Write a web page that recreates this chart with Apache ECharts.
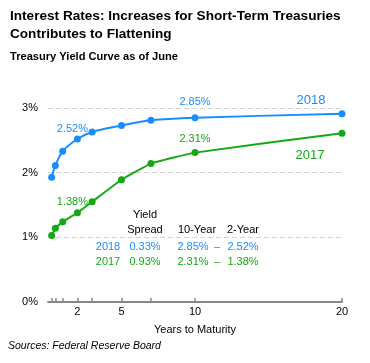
<!DOCTYPE html>
<html><head><meta charset="utf-8">
<script src="https://cdn.jsdelivr.net/npm/echarts@6/dist/echarts.min.js"></script>
<style>html,body{margin:0;padding:0;background:#fff}#c{width:370px;height:363px}</style>
</head><body><div id="c"></div>
<script>
var maturities = [0.25, 0.5, 1, 2, 3, 5, 7, 10, 20];
var yields2018 = [1.93, 2.11, 2.33, 2.52, 2.63, 2.73, 2.81, 2.85, 2.91];
var yields2017 = [1.03, 1.14, 1.24, 1.38, 1.55, 1.89, 2.14, 2.31, 2.61];
var labeledMaturities = [2, 10];
var xTickLabels = [2, 5, 10, 20];
var yTicks = [0, 1, 2, 3];
var tableHeader = ['Yield', 'Spread', '10-Year', '2-Year'];
var tableRow2018 = ['2018', '0.33%', '2.85%', '\u2013', '2.52%'];
var tableRow2017 = ['2017', '0.93%', '2.31%', '\u2013', '1.38%'];

var BLUE = '#1a8cff', GREEN = '#14a814';
var FONT = 'Liberation Sans';

function mkData(ys, offsets) {
  return maturities.map(function (m, i) {
    var d = { value: [m, ys[i]] };
    var k = labeledMaturities.indexOf(m);
    if (k >= 0) {
      d.label = { show: true, formatter: ys[i].toFixed(2) + '%', position: 'top', offset: offsets[k] };
    }
    return d;
  });
}

var chart = echarts.init(document.getElementById('c'));
function txt(x, y, s, color, align, extra) {
  var st = { text: s, fill: color, font: '11px ' + FONT, textAlign: align || 'center', textVerticalAlign: 'middle' };
  if (extra) for (var k in extra) st[k] = extra[k];
  return { type: 'text', x: x, y: y, style: st, silent: true };
}
var g = [
  { type: 'text', x: 10, y: 16, style: { text: 'Interest Rates: Increases for Short-Term Treasuries', font: 'bold 13.6px ' + FONT, fill: '#000', textVerticalAlign: 'middle' } },
  { type: 'text', x: 10, y: 34, style: { text: 'Contributes to Flattening', font: 'bold 13.6px ' + FONT, fill: '#000', textVerticalAlign: 'middle' } },
  { type: 'text', x: 10, y: 57, style: { text: 'Treasury Yield Curve as of June', font: 'bold 11.1px ' + FONT, fill: '#000', textVerticalAlign: 'middle' } },
  { type: 'text', x: 8, y: 346, style: { text: 'Sources: Federal Reserve Board', font: 'italic 10.5px ' + FONT, fill: '#000', textVerticalAlign: 'middle' } },
  txt(311, 100, '2018', BLUE, 'center', { font: '13px ' + FONT }),
  txt(310, 155, '2017', GREEN, 'center', { font: '13px ' + FONT }),
  txt(145, 215, tableHeader[0], '#000'),
  txt(145, 230, tableHeader[1], '#000'),
  txt(197, 230, tableHeader[2], '#000'),
  txt(243, 230, tableHeader[3], '#000')
];
var cols = [108, 145, 193, 217, 243];
[[tableRow2018, BLUE, 247], [tableRow2017, GREEN, 262]].forEach(function (r) {
  r[0].forEach(function (s, i) { g.push(txt(cols[i], r[2], s, r[1])); });
});

chart.setOption({
  animation: false,
  textStyle: { fontFamily: FONT },
  grid: { left: 48, right: 28, top: 108, bottom: 61 },
  xAxis: {
    type: 'value', min: 0, max: 20,
    name: 'Years to Maturity', nameLocation: 'middle', nameGap: 22,
    nameTextStyle: { color: '#000', fontSize: 11, fontFamily: FONT },
    axisLine: { show: true, lineStyle: { color: '#888', width: 2 } },
    axisTick: { show: true, inside: true, length: 4, customValues: maturities, lineStyle: { color: '#888', width: 1.5 } },
    axisLabel: { customValues: xTickLabels, color: '#000', fontSize: 11, margin: 4 },
    splitLine: { show: false }
  },
  yAxis: {
    type: 'value', min: 0, max: 3, interval: 1,
    axisLine: { show: false }, axisTick: { show: false },
    axisLabel: { formatter: '{value}%', color: '#000', fontSize: 11, margin: 10 },
    splitLine: { show: true, lineStyle: { color: '#d4d4d4', type: [5, 3], width: 1 } }
  },
  series: [
    { name: '2018', type: 'line', data: mkData(yields2018, [[-5, 4], [0, -2]]), smooth: 0.3,
      color: BLUE, lineStyle: { width: 2 }, symbol: 'circle', symbolSize: 7,
      label: { color: BLUE, fontSize: 11, fontFamily: FONT } },
    { name: '2017', type: 'line', data: mkData(yields2017, [[-5, 3], [0, 0]]), smooth: 0.1,
      color: GREEN, lineStyle: { width: 2 }, symbol: 'circle', symbolSize: 7,
      label: { color: GREEN, fontSize: 11, fontFamily: FONT } }
  ],
  graphic: g
});
</script></body></html>
